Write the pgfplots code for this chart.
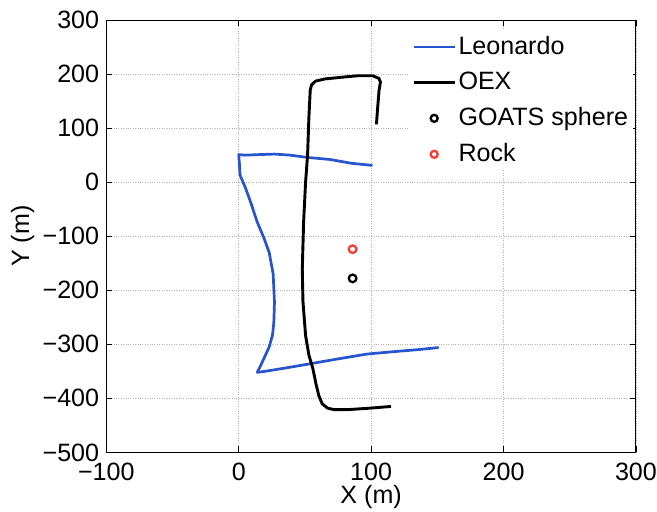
\documentclass[border=0pt]{standalone}
\usepackage{pgfplots}
\pgfplotsset{compat=1.18}
\usepackage{fontspec}
\setmainfont{Liberation Sans}
\definecolor{leoblue}{RGB}{38,84,206}
\definecolor{rockred}{RGB}{250,60,50}
\begin{document}
\fontsize{25}{29}\selectfont
\begin{tikzpicture}
\begin{axis}[
  scale only axis,
  width=528pt, height=431pt,
  xmin=-100, xmax=300, ymin=-500, ymax=300,
  xtick={-100,0,100,200,300},
  xticklabels={−100,0,100,200,300},
  ytick={-500,-400,-300,-200,-100,0,100,200,300},
  yticklabels={−500,−400,−300,−200,−100,0,100,200,300},
  tick align=inside,
  major tick length=6pt,
  tick style={black, line width=0.7pt},
  axis line style={line width=0.9pt},
  grid=major,
  grid style={dotted, gray!60, line width=0.8pt},
  ticklabel style={font=\fontsize{25}{29}\selectfont, inner sep=1pt},
  xticklabel style={yshift=-9.5pt},
  yticklabel style={xshift=-6pt},
  label style={font=\fontsize{25}{29}\selectfont, inner sep=1pt},
  xlabel={X (m)}, ylabel={Y (m)},
  xlabel style={yshift=-2pt},
  ylabel style={yshift=6pt},
  legend style={at={(rel axis cs:0.995,0.975)}, anchor=north east,
    draw=none, fill=white, font=\fontsize{25}{29}\selectfont,
    row sep=10pt, inner sep=3pt},
  legend cell align=left,
  legend image code/.code={\draw[#1] (0cm,0cm) -- (1.45cm,0cm);},
]
% Leonardo track
\addplot[leoblue, line width=2.7pt, line join=round] coordinates {
(101,31) (85,35) (69,42) (51,46) (39,50) (27,52) (15,51) (5,50) (0,51)
(0.5,35) (1,13) (5,-10) (9,-37) (14,-74) (19,-103) (23,-130) (26,-170)
(27,-222) (26.5,-260) (25.5,-283) (23,-305) (20,-321) (17,-337) (14,-352)
(20,-350) (35,-344) (54,-336) (75,-327) (97,-318) (120,-313) (135,-310) (151,-306)
};
\addlegendentry{Leonardo}
% OEX track
\addplot[black, line width=2.9pt, line join=round] coordinates {
(104,107) (105,140) (106,170) (107,185) (106,192) (101,197) (90,197) (77,194)
(65,191) (58,187) (55,180) (54,170) (53,120) (52,50) (50.5,0) (49,-74)
(48,-161) (48.5,-220) (50.5,-284) (53,-320) (56,-345) (58.5,-375) (60.5,-395)
(63,-410) (67,-418) (72,-421) (82,-421) (100,-418) (115,-415)
};
\addlegendentry{OEX}
% Target positions
\addplot[only marks, mark=o, mark size=3.8pt, black, mark options={line width=2.3pt},
  legend image code/.code={\draw[black, line width=2.3pt] (0.72cm,0cm) circle (3.5pt);}]
  coordinates {(86,-178)};
\addlegendentry{GOATS sphere}
\addplot[only marks, mark=o, mark size=3.8pt, rockred, mark options={line width=2.3pt},
  legend image code/.code={\draw[rockred, line width=2.3pt] (0.72cm,0cm) circle (3.5pt);}]
  coordinates {(86,-124)};
\addlegendentry{Rock}
\end{axis}
% fixed page margins around the axis box
\pgfresetboundingbox
\path ([shift={(-106pt,-59pt)}]current axis.south west) rectangle ([shift={(21pt,20pt)}]current axis.north east);
\end{tikzpicture}
\end{document}
